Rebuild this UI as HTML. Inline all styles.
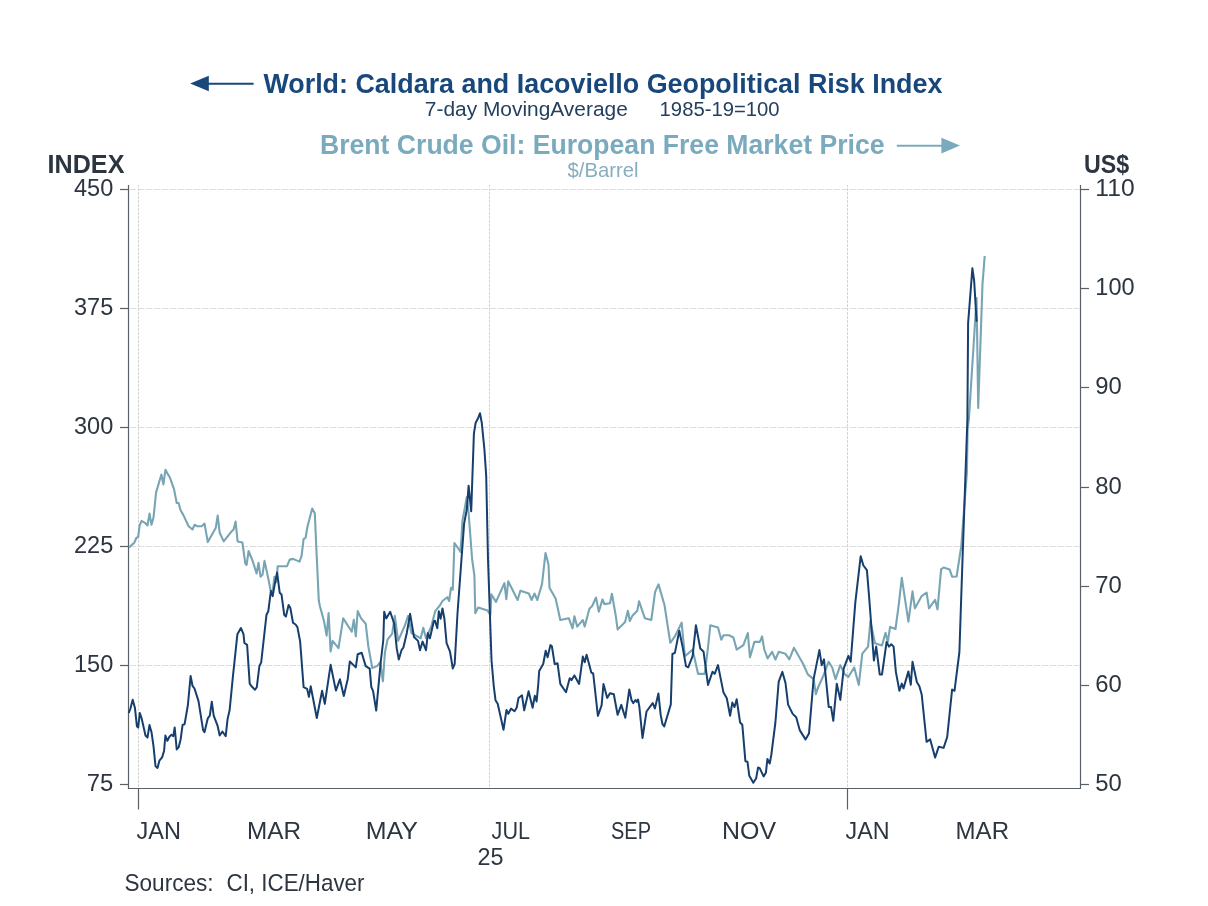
<!DOCTYPE html>
<html><head><meta charset="utf-8"><title>Geopolitical Risk Index vs Brent</title>
<style>html,body{margin:0;padding:0;background:#fff;width:1208px;height:906px;overflow:hidden}svg{display:block;font-family:"Liberation Sans",sans-serif;will-change:transform}</style>
</head><body>
<svg width="1208" height="906" viewBox="0 0 1208 906" font-family="Liberation Sans, sans-serif">
<line x1="129.5" y1="189.5" x2="1079.5" y2="189.5" stroke="#dddddd" stroke-width="1" stroke-dasharray="6.5 1.5"/>
<line x1="129.5" y1="308.5" x2="1079.5" y2="308.5" stroke="#dddddd" stroke-width="1" stroke-dasharray="6.5 1.5"/>
<line x1="129.5" y1="427.5" x2="1079.5" y2="427.5" stroke="#dddddd" stroke-width="1" stroke-dasharray="6.5 1.5"/>
<line x1="129.5" y1="546.5" x2="1079.5" y2="546.5" stroke="#dddddd" stroke-width="1" stroke-dasharray="6.5 1.5"/>
<line x1="129.5" y1="665.5" x2="1079.5" y2="665.5" stroke="#dddddd" stroke-width="1" stroke-dasharray="6.5 1.5"/>
<line x1="138.5" y1="185" x2="138.5" y2="787.5" stroke="#d0d0d0" stroke-width="1" stroke-dasharray="2.6 1.4" stroke-dashoffset="-3.2"/>
<line x1="489.5" y1="185" x2="489.5" y2="787.5" stroke="#d0d0d0" stroke-width="1" stroke-dasharray="2.6 1.4" stroke-dashoffset="-3.2"/>
<line x1="847.5" y1="185" x2="847.5" y2="787.5" stroke="#d0d0d0" stroke-width="1" stroke-dasharray="2.6 1.4" stroke-dashoffset="-3.2"/>
<path d="M128.5 185 V788.5 H1080.5 V185" fill="none" stroke="#5a6068" stroke-width="1.2"/>
<line x1="120" y1="189.5" x2="128.5" y2="189.5" stroke="#5a6068" stroke-width="1.2"/>
<line x1="120" y1="308.5" x2="128.5" y2="308.5" stroke="#5a6068" stroke-width="1.2"/>
<line x1="120" y1="427.5" x2="128.5" y2="427.5" stroke="#5a6068" stroke-width="1.2"/>
<line x1="120" y1="546.5" x2="128.5" y2="546.5" stroke="#5a6068" stroke-width="1.2"/>
<line x1="120" y1="665.5" x2="128.5" y2="665.5" stroke="#5a6068" stroke-width="1.2"/>
<line x1="120" y1="784.5" x2="128.5" y2="784.5" stroke="#5a6068" stroke-width="1.2"/>
<line x1="1080.5" y1="189.5" x2="1089" y2="189.5" stroke="#5a6068" stroke-width="1.2"/>
<line x1="1080.5" y1="288.5" x2="1089" y2="288.5" stroke="#5a6068" stroke-width="1.2"/>
<line x1="1080.5" y1="387.5" x2="1089" y2="387.5" stroke="#5a6068" stroke-width="1.2"/>
<line x1="1080.5" y1="487.5" x2="1089" y2="487.5" stroke="#5a6068" stroke-width="1.2"/>
<line x1="1080.5" y1="586.5" x2="1089" y2="586.5" stroke="#5a6068" stroke-width="1.2"/>
<line x1="1080.5" y1="685.5" x2="1089" y2="685.5" stroke="#5a6068" stroke-width="1.2"/>
<line x1="1080.5" y1="784.5" x2="1089" y2="784.5" stroke="#5a6068" stroke-width="1.2"/>
<line x1="138.5" y1="788.5" x2="138.5" y2="809.5" stroke="#5a6068" stroke-width="1.2"/>
<line x1="847.5" y1="788.5" x2="847.5" y2="809.5" stroke="#5a6068" stroke-width="1.2"/>
<polyline points="129.0,547.4 134.3,542.7 136.3,538.0 138.2,536.8 139.6,525.5 141.6,520.9 144.9,522.8 147.5,525.5 149.5,513.6 151.5,524.8 153.5,517.5 156.1,492.4 161.4,474.5 163.4,484.4 165.4,469.9 170.0,477.8 174.0,489.1 176.7,503.0 178.6,503.0 180.6,510.3 183.3,514.9 188.6,526.2 192.5,529.5 194.5,524.8 197.2,526.2 201.8,526.2 204.5,523.5 207.8,542.1 215.7,528.1 217.7,515.6 219.7,532.8 223.7,541.4 231.0,532.1 233.6,529.5 235.6,521.5 237.6,541.4 242.4,542.5 245.3,563.6 246.6,564.9 248.6,551.0 252.6,560.9 256.6,573.5 258.5,562.9 260.5,576.6 262.5,574.8 264.5,560.9 268.5,579.5 270.5,590.0 272.5,592.7 274.4,576.8 276.4,582.1 277.7,566.2 287.0,566.2 289.7,559.6 293.0,558.9 299.6,561.6 301.6,555.6 303.6,539.1 305.6,537.7 307.5,526.5 312.2,508.6 314.8,513.2 316.2,545.0 318.8,600.7 320.0,606.5 324.0,621.1 326.6,635.6 328.6,613.1 330.6,651.5 332.6,640.9 338.5,648.2 343.2,618.4 351.8,631.7 353.8,619.7 355.8,636.3 357.7,611.1 361.1,618.4 365.7,623.7 368.3,646.2 372.3,668.1 377.0,666.1 380.3,662.1 382.9,681.3 384.9,652.8 387.5,639.6 392.2,633.6 394.8,615.8 398.1,640.9 404.8,625.7 408.1,615.8 411.4,633.0 420.7,638.3 423.3,627.7 426.0,638.3 431.3,626.4 435.2,611.1 439.7,605.7 442.5,601.0 447.2,597.2 449.1,601.0 451.0,587.8 452.8,589.7 454.4,543.0 460.6,551.9 462.4,521.0 466.8,497.1 468.6,513.0 472.1,559.0 474.4,575.6 475.3,613.2 478.2,607.5 487.5,610.4 490.4,615.0 491.3,594.4 496.0,601.9 504.4,583.1 506.3,599.1 508.2,581.3 517.6,600.0 520.4,590.7 528.8,593.5 531.6,600.0 534.5,593.5 537.3,600.0 542.0,584.1 545.5,553.0 548.5,564.4 549.5,587.8 555.6,598.5 560.3,620.0 568.8,618.2 572.5,628.5 574.4,616.3 577.2,626.6 582.8,620.0 584.7,626.6 589.4,608.8 592.2,606.0 596.0,597.5 598.8,611.6 602.5,599.4 604.4,604.1 610.0,603.2 611.9,593.8 615.7,615.4 617.6,629.4 625.1,621.9 627.9,610.7 629.8,621.0 632.6,615.4 637.3,610.7 639.1,601.3 644.8,618.2 651.3,620.0 655.1,591.9 658.5,584.4 664.5,605.0 670.3,642.8 674.9,636.4 681.6,622.7 684.9,656.2 692.6,649.6 698.1,673.9 704.7,673.9 708.0,647.4 710.3,625.3 718.0,627.5 721.3,639.7 723.5,635.3 729.0,635.3 733.4,637.5 736.7,649.6 743.4,645.2 747.8,633.0 750.0,657.3 754.4,641.9 759.9,641.9 762.1,636.4 764.3,649.6 767.6,658.4 772.1,651.8 775.4,659.5 778.7,651.8 785.5,653.8 789.3,659.4 793.9,647.8 803.2,664.0 807.8,674.4 813.6,679.1 815.9,694.1 818.2,687.2 822.9,676.8 828.7,661.7 832.2,667.5 835.6,679.1 840.3,665.2 844.9,674.4 848.4,676.8 854.2,667.5 858.8,684.9 862.3,653.6 868.1,646.6 870.4,621.1 875.0,643.2 882.0,645.5 885.5,632.7 887.8,642.0 890.1,626.9 895.5,629.0 898.6,605.9 901.8,577.9 908.4,621.6 912.5,591.3 914.9,608.3 921.7,596.1 926.6,592.5 929.0,608.3 935.1,599.8 937.5,609.5 941.1,569.4 943.6,567.5 949.6,569.4 952.1,576.7 956.6,576.5 961.3,546.0 966.9,472.2 967.6,430.0 968.9,419.0 976.6,298.0 978.2,408.0 982.5,284.0 984.7,256.0" fill="none" stroke="#78a5b4" stroke-width="2.1" stroke-linejoin="round"/>
<polyline points="128.7,713.0 130.3,709.0 132.7,699.7 134.9,707.7 136.9,726.2 138.2,727.5 139.8,713.0 141.6,718.3 145.5,735.5 147.5,737.5 149.5,724.9 151.5,732.2 153.5,746.1 155.5,766.0 157.5,767.9 159.4,760.7 162.1,757.4 164.1,750.7 165.4,735.5 167.4,740.8 169.4,736.8 171.4,734.8 173.3,736.2 174.7,727.5 176.7,749.4 178.6,747.4 180.6,739.5 182.6,724.9 184.6,724.2 187.9,705.0 190.6,675.9 192.5,685.8 194.5,688.5 198.5,701.1 203.1,730.2 204.5,732.2 207.8,718.3 209.8,715.6 211.8,701.7 213.7,715.6 217.7,726.2 219.7,735.5 222.4,731.5 225.7,736.2 227.6,718.9 229.6,710.3 232.9,676.6 237.4,634.2 240.9,628.0 243.5,634.2 244.4,643.0 247.1,644.8 249.7,683.6 251.5,686.3 255.0,689.8 256.8,687.2 259.4,666.0 261.2,662.4 266.5,614.7 268.3,611.2 270.9,590.9 272.7,596.2 274.4,586.1 277.1,572.4 279.7,592.7 281.5,594.4 284.2,614.7 285.9,616.5 288.6,605.0 290.3,607.7 293.0,622.7 295.6,624.5 297.4,627.1 300.1,641.2 303.6,687.2 307.1,688.9 308.9,696.9 310.7,686.3 316.8,718.0 322.1,690.7 324.8,703.9 330.6,664.8 335.9,690.6 339.9,679.3 343.8,695.9 347.8,678.7 349.8,661.5 355.8,667.4 357.7,654.2 361.7,652.8 365.7,666.1 369.7,668.7 371.3,686.8 373.1,691.2 376.2,710.6 380.6,663.0 383.3,640.0 384.2,611.8 386.2,618.4 390.2,611.8 394.2,623.7 396.8,648.9 398.8,659.5 401.5,650.2 403.4,647.5 406.8,633.0 410.1,613.8 414.0,637.0 418.0,640.9 420.0,650.2 422.6,641.6 426.0,650.2 427.9,633.0 429.9,638.3 433.9,621.1 435.0,620.7 437.3,628.2 438.8,611.3 440.6,618.8 442.5,608.5 444.4,618.8 446.6,643.2 450.0,651.6 452.8,668.5 454.7,663.8 457.5,613.2 461.5,559.0 464.1,523.6 466.8,509.5 468.6,485.7 471.2,511.3 473.9,433.6 475.6,423.0 478.3,417.7 480.0,413.2 481.8,423.0 484.4,449.4 486.2,475.9 488.0,559.0 491.5,660.0 493.7,685.6 495.5,700.2 497.7,703.7 503.5,729.8 506.5,709.9 508.3,713.9 511.0,708.6 514.5,711.2 516.7,707.7 518.5,698.0 522.0,695.3 524.2,710.3 528.6,691.3 532.6,707.7 534.8,695.8 536.6,701.5 538.3,683.8 539.2,671.0 543.2,664.0 545.7,650.7 547.6,657.3 550.4,645.1 551.9,646.3 554.7,664.1 557.5,663.2 560.3,683.9 566.0,692.3 569.7,678.2 571.6,680.1 574.4,675.4 579.1,683.9 582.8,656.6 584.7,662.3 586.6,654.8 591.3,672.6 593.2,673.5 597.9,715.8 601.6,705.4 603.5,683.9 607.2,697.9 610.0,693.2 613.8,694.2 617.6,714.8 621.3,704.9 625.3,717.7 629.3,689.4 631.5,700.0 633.2,703.1 635.5,700.0 636.8,701.8 638.1,699.6 639.4,707.1 642.5,738.0 646.5,711.5 652.7,703.1 654.9,708.4 658.4,693.4 660.6,714.2 662.4,723.9 664.2,726.5 670.8,704.4 672.4,654.0 674.9,652.9 679.3,630.8 682.7,647.4 686.0,666.2 688.2,667.3 692.6,656.2 695.9,625.3 700.3,648.5 703.6,651.8 708.0,684.9 712.5,671.7 714.7,673.9 718.0,665.1 723.5,692.6 726.8,698.2 730.1,715.8 732.3,702.6 734.5,707.0 736.7,699.3 740.1,722.5 742.3,724.7 745.4,761.2 747.5,761.8 749.3,775.8 753.3,782.8 756.2,778.2 758.1,767.4 759.7,768.1 763.6,776.4 765.9,772.8 767.4,758.9 769.7,763.5 771.3,755.0 775.4,722.5 778.7,681.6 782.4,671.9 785.5,683.0 788.1,704.6 792.7,713.9 796.2,717.3 799.7,730.1 805.5,739.4 809.0,733.6 813.6,679.1 819.4,650.1 821.7,665.2 824.0,659.4 828.7,706.9 831.0,706.9 833.3,720.8 836.8,683.7 840.3,699.9 843.7,668.7 848.4,655.9 850.7,661.7 855.3,602.6 860.7,556.2 863.4,565.5 866.9,570.1 869.2,598.0 873.9,660.5 876.2,646.6 879.7,674.4 882.0,674.4 886.6,642.0 889.0,646.6 891.3,644.3 893.6,646.6 895.9,672.1 899.4,690.8 901.8,683.6 903.5,688.4 908.4,671.4 910.8,684.8 912.5,661.7 916.9,682.3 919.3,686.0 921.7,694.5 926.6,741.8 930.2,739.4 935.1,757.6 938.7,746.7 943.6,747.9 947.2,737.0 952.1,689.6 954.5,690.8 959.4,652.0 961.5,589.0 967.4,419.0 968.1,323.3 972.4,268.2 974.2,281.4 976.6,321.7" fill="none" stroke="#173f6d" stroke-width="2.0" stroke-linejoin="round"/>
<text x="113.3" y="195.9" font-size="24.5" fill="#2c3540" font-weight="normal" text-anchor="end" textLength="39.3" lengthAdjust="spacingAndGlyphs">450</text>
<text x="113.3" y="314.90000000000003" font-size="24.5" fill="#2c3540" font-weight="normal" text-anchor="end" textLength="39.3" lengthAdjust="spacingAndGlyphs">375</text>
<text x="113.3" y="433.90000000000003" font-size="24.5" fill="#2c3540" font-weight="normal" text-anchor="end" textLength="39.3" lengthAdjust="spacingAndGlyphs">300</text>
<text x="113.3" y="552.9" font-size="24.5" fill="#2c3540" font-weight="normal" text-anchor="end" textLength="39.3" lengthAdjust="spacingAndGlyphs">225</text>
<text x="113.3" y="671.9" font-size="24.5" fill="#2c3540" font-weight="normal" text-anchor="end" textLength="39.3" lengthAdjust="spacingAndGlyphs">150</text>
<text x="113.3" y="790.9" font-size="24.5" fill="#2c3540" font-weight="normal" text-anchor="end" textLength="26.5" lengthAdjust="spacingAndGlyphs">75</text>
<text x="1095.3" y="196.0" font-size="24.5" fill="#2c3540" font-weight="normal" text-anchor="start" textLength="39.3" lengthAdjust="spacingAndGlyphs">110</text>
<text x="1095.3" y="295.20000000000005" font-size="24.5" fill="#2c3540" font-weight="normal" text-anchor="start" textLength="39.3" lengthAdjust="spacingAndGlyphs">100</text>
<text x="1095.3" y="394.40000000000003" font-size="24.5" fill="#2c3540" font-weight="normal" text-anchor="start" textLength="26.5" lengthAdjust="spacingAndGlyphs">90</text>
<text x="1095.3" y="493.6" font-size="24.5" fill="#2c3540" font-weight="normal" text-anchor="start" textLength="26.5" lengthAdjust="spacingAndGlyphs">80</text>
<text x="1095.3" y="592.8000000000001" font-size="24.5" fill="#2c3540" font-weight="normal" text-anchor="start" textLength="26.5" lengthAdjust="spacingAndGlyphs">70</text>
<text x="1095.3" y="691.9" font-size="24.5" fill="#2c3540" font-weight="normal" text-anchor="start" textLength="26.5" lengthAdjust="spacingAndGlyphs">60</text>
<text x="1095.3" y="791.0" font-size="24.5" fill="#2c3540" font-weight="normal" text-anchor="start" textLength="26.5" lengthAdjust="spacingAndGlyphs">50</text>
<text x="136.5" y="839" font-size="24.5" fill="#2c3540" font-weight="normal" text-anchor="start" textLength="44.4" lengthAdjust="spacingAndGlyphs">JAN</text>
<text x="247" y="839" font-size="24.5" fill="#2c3540" font-weight="normal" text-anchor="start" textLength="54" lengthAdjust="spacingAndGlyphs">MAR</text>
<text x="365.8" y="839" font-size="24.5" fill="#2c3540" font-weight="normal" text-anchor="start" textLength="52.2" lengthAdjust="spacingAndGlyphs">MAY</text>
<text x="491.6" y="839" font-size="24.5" fill="#2c3540" font-weight="normal" text-anchor="start" textLength="38.4" lengthAdjust="spacingAndGlyphs">JUL</text>
<text x="611" y="839" font-size="24.5" fill="#2c3540" font-weight="normal" text-anchor="start" textLength="40" lengthAdjust="spacingAndGlyphs">SEP</text>
<text x="722" y="839" font-size="24.5" fill="#2c3540" font-weight="normal" text-anchor="start" textLength="54" lengthAdjust="spacingAndGlyphs">NOV</text>
<text x="845.6" y="839" font-size="24.5" fill="#2c3540" font-weight="normal" text-anchor="start" textLength="44" lengthAdjust="spacingAndGlyphs">JAN</text>
<text x="955.6" y="839" font-size="24.5" fill="#2c3540" font-weight="normal" text-anchor="start" textLength="53.4" lengthAdjust="spacingAndGlyphs">MAR</text>
<text x="477.5" y="865.3" font-size="24.5" fill="#2c3540" font-weight="normal" text-anchor="start" textLength="26" lengthAdjust="spacingAndGlyphs">25</text>
<text x="124.5" y="891.3" font-size="24.5" fill="#2c3540" font-weight="normal" text-anchor="start" textLength="89" lengthAdjust="spacingAndGlyphs">Sources:</text>
<text x="226.5" y="891.3" font-size="24.5" fill="#2c3540" font-weight="normal" text-anchor="start" textLength="138" lengthAdjust="spacingAndGlyphs">CI, ICE/Haver</text>
<text x="47.6" y="172.8" font-size="25.8" fill="#2c3540" font-weight="bold" text-anchor="start" textLength="76.8" lengthAdjust="spacingAndGlyphs">INDEX</text>
<text x="1084" y="172.6" font-size="25.8" fill="#2c3540" font-weight="bold" text-anchor="start" textLength="45.2" lengthAdjust="spacingAndGlyphs">US$</text>
<text x="263.4" y="92.5" font-size="27" fill="#17477b" font-weight="bold" text-anchor="start" textLength="679" lengthAdjust="spacingAndGlyphs">World: Caldara and Iacoviello Geopolitical Risk Index</text>
<text x="424.8" y="116.2" font-size="20.5" fill="#24405f" font-weight="normal" text-anchor="start" textLength="203" lengthAdjust="spacingAndGlyphs">7-day MovingAverage</text>
<text x="659.6" y="116.2" font-size="20.5" fill="#24405f" font-weight="normal" text-anchor="start" textLength="120" lengthAdjust="spacingAndGlyphs">1985-19=100</text>
<text x="320" y="154.4" font-size="26.8" fill="#7aaabd" font-weight="bold" text-anchor="start" textLength="564.5" lengthAdjust="spacingAndGlyphs">Brent Crude Oil: European Free Market Price</text>
<text x="567.6" y="177.2" font-size="21" fill="#86aebf" font-weight="normal" text-anchor="start" textLength="71" lengthAdjust="spacingAndGlyphs">$/Barrel</text>
<line x1="207" y1="83.8" x2="253.6" y2="83.8" stroke="#17477b" stroke-width="1.9"/>
<path d="M190.2 83.5 L208.8 75.8 L208.8 91.3 Z" fill="#17477b"/>
<line x1="896.8" y1="145.8" x2="943" y2="145.8" stroke="#7aaabd" stroke-width="1.9"/>
<path d="M960 145.6 L941.4 137.8 L941.4 153.4 Z" fill="#7aaabd"/>
</svg>
</body></html>
